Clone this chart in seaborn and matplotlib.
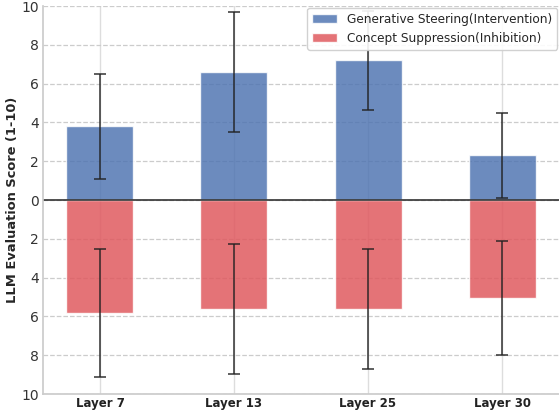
import matplotlib
matplotlib.use("Agg")
import matplotlib.pyplot as plt
import seaborn as sns
import numpy as np
import pandas as pd

layers = ["Layer 7", "Layer 13", "Layer 25", "Layer 30"]
steer_mean = [3.8, 6.6, 7.2, 2.3]
steer_err = [2.7, 3.1, 2.55, 2.2]
supp_mean = [5.8, 5.6, 5.6, 5.05]
supp_err = [3.3, 3.35, 3.1, 2.95]
yticks = [-10, -8, -6, -4, -2, 0, 2, 4, 6, 8, 10]

sns.set_theme(style="whitegrid")
plt.rcParams['font.family'] = ['DejaVu Sans']

fig = plt.figure(figsize=(5.59, 4.12), dpi=100)
ax = fig.add_axes([43/559, 18/412, 1 - 43/559, 388/412])

df = pd.DataFrame({"layer": layers, "steer": steer_mean,
                   "supp": [-v for v in supp_mean]})

blue = "#4C72B0"
red = "#E05A5F"
sns.barplot(data=df, x="layer", y="steer", color=blue, alpha=0.82,
            width=0.5, ax=ax, label="Generative Steering(Intervention)",
            saturation=1)
sns.barplot(data=df, x="layer", y="supp", color=red, alpha=0.85,
            width=0.5, ax=ax, label="Concept Suppression(Inhibition)",
            saturation=1)

xs = np.arange(len(layers))
ax.errorbar(xs, steer_mean, yerr=steer_err, fmt="none", ecolor="#222222",
            elinewidth=1.2, capsize=4, capthick=1.2, alpha=0.85)
ax.errorbar(xs, [-v for v in supp_mean], yerr=supp_err, fmt="none",
            ecolor="#222222", elinewidth=1.2, capsize=4, capthick=1.2, alpha=0.85)

ax.axhline(0, color="#333333", linewidth=1.2)
ax.set_ylim(-10, 10)
ax.set_yticks(yticks)
ax.set_yticklabels([str(abs(t)) for t in yticks], fontsize=10, color="#333333")
ax.set_xlabel("")
ax.set_ylabel("LLM Evaluation Score (1-10)", fontsize=9.4, fontweight="bold",
              labelpad=1.5)
for lab in ax.get_xticklabels():
    lab.set_fontweight("bold")
    lab.set_fontsize(8.5)
    lab.set_color("#222222")
ax.tick_params(axis="x", length=0, pad=2)
ax.tick_params(axis="y", length=0, pad=3)
ax.yaxis.grid(True, linestyle="--", color="#cccccc", linewidth=0.9)
ax.xaxis.grid(True, linestyle="-", color="#dddddd", linewidth=1)
ax.set_axisbelow(True)
for s in ["top", "right"]:
    ax.spines[s].set_visible(False)
for s in ["left", "bottom"]:
    ax.spines[s].set_color("#cccccc")
ax.legend(loc="upper right", fontsize=8.7, frameon=True, framealpha=0.9,
          handlelength=2.1, borderaxespad=0.15)

fig.savefig("out.png", dpi=100)
